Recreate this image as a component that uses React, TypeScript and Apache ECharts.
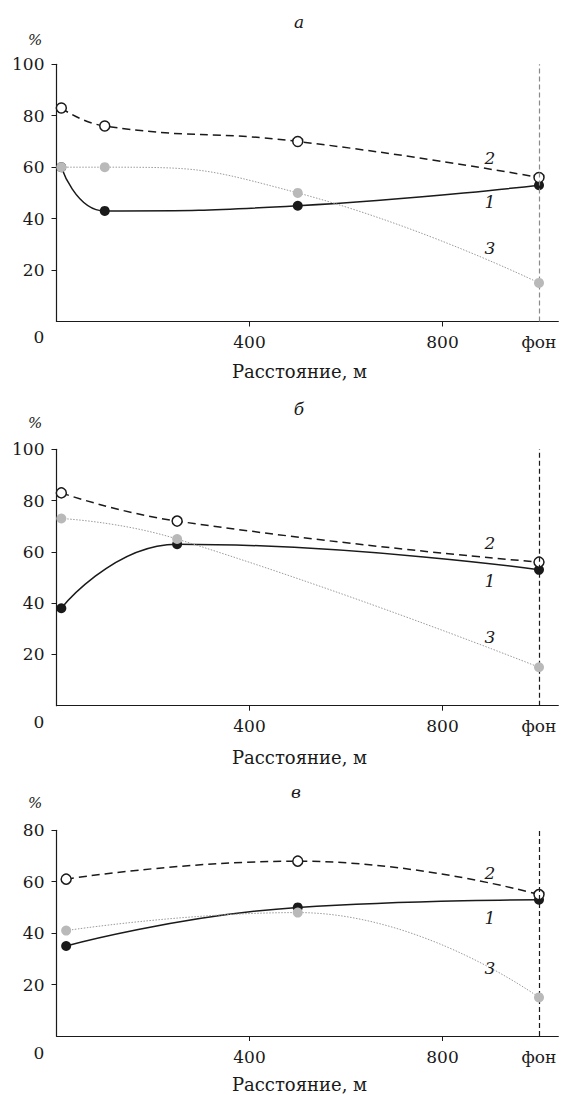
import React, { useEffect, useRef } from "react";
import * as echarts from "echarts";

// Panel а
const xA = [10, 100, 500, 1000];
const s1A = [60, 43, 45, 53];
const s2A = [83, 76, 70, 56];
const s3A = [60, 60, 50, 15];
// Panel б
const xB = [10, 250, 1000];
const s1B = [38, 63, 53];
const s2B = [83, 72, 56];
const s3B = [73, 65, 15];
// Panel в
const xC = [20, 500, 1000];
const s1C = [35, 50, 53];
const s2C = [61, 68, 55];
const s3C = [41, 48, 15];

const xTickValues = [400, 800];
const xLabelValues = [400, 800, 1000];
const BG_VALUE = 1000;
const BG_LABEL = "фон";
const X_MAX = 1040;
const yTicksAB = [20, 40, 60, 80, 100];
const yTicksC = [20, 40, 60, 80];
const panelTitles = ["а", "б", "в"];
const xAxisName = "Расстояние, м";
const yUnit = "%";
const seriesNames = ["1", "2", "3"];

const FONT = "DejaVu Serif";
const INK = "#1a1a1a";

export default function App() {
  const ref = useRef<HTMLDivElement>(null);
  useEffect(() => {
    if (!ref.current) return;
    const chart = echarts.init(ref.current, null, { renderer: "svg" });

    const grids = [
      { left: 56.5, top: 64.3, width: 501.8, height: 257.2 },
      { left: 56.5, top: 449.3, width: 501.8, height: 256.4 },
      { left: 56.5, top: 830.3, width: 501.8, height: 205.7 },
    ];
    const yMax = [100, 100, 80];
    const yTicks = [yTicksAB, yTicksAB, yTicksC];
    const vlineColor = ["#8a8a8a", INK, INK];
    const xs = [xA, xB, xC];
    const s1 = [s1A, s1B, s1C];
    const s2 = [s2A, s2B, s2C];
    const s3 = [s3A, s3B, s3C];

    const xAxes = grids.map((_, i) => ({
      type: "value",
      gridIndex: i,
      min: 0,
      max: X_MAX,
      axisLine: { show: true, onZero: false, lineStyle: { color: INK, width: 1.2 } },
      axisTick: { show: true, customValues: xTickValues, inside: false, length: 5, lineStyle: { color: INK, width: 1 } },
      axisLabel: {
        customValues: xLabelValues,
        formatter: (v: number) => (v === BG_VALUE ? BG_LABEL : String(v)),
        color: INK,
        fontFamily: FONT,
        fontSize: 17,
        margin: 12,
      },
      splitLine: { show: false },
    }));
    const yAxes = grids.map((_, i) => ({
      type: "value",
      gridIndex: i,
      min: 0,
      max: yMax[i],
      interval: 20,
      axisLine: { show: true, onZero: false, lineStyle: { color: INK, width: 1.2 } },
      axisTick: { show: true, customValues: yTicks[i], length: 5, lineStyle: { color: INK, width: 1 } },
      axisLabel: {
        customValues: yTicks[i],
        color: INK,
        fontFamily: FONT,
        fontSize: 17,
        margin: 12,
      },
      splitLine: { show: false },
    }));

    const series: any[] = [];
    for (let i = 0; i < 3; i++) {
      series.push({
        type: "line",
        xAxisIndex: i,
        yAxisIndex: i,
        smooth: true,
        data: xs[i].map((x, k) => [x, s1[i][k]]),
        symbol: "circle",
        symbolSize: 10,
        itemStyle: { color: INK, borderWidth: 0 },
        lineStyle: { color: INK, width: 1.5 },
        z: 3,
        markLine: {
          silent: true,
          symbol: "none",
          label: { show: false },
          lineStyle: { color: vlineColor[i], type: [5, 3], width: 1.2 },
          data: [{ xAxis: BG_VALUE }],
        },
      });
      series.push({
        type: "line",
        xAxisIndex: i,
        yAxisIndex: i,
        smooth: true,
        data: xs[i].map((x, k) => [x, s2[i][k]]),
        symbol: "circle",
        symbolSize: 10,
        itemStyle: { color: "#ffffff", borderColor: INK, borderWidth: 1.5 },
        lineStyle: { color: INK, width: 1.5, type: [8, 5] },
        z: 4,
      });
      series.push({
        type: "line",
        xAxisIndex: i,
        yAxisIndex: i,
        smooth: true,
        data: xs[i].map((x, k) => [x, s3[i][k]]),
        symbol: "circle",
        symbolSize: 10,
        itemStyle: { color: "#b9b9b9", borderWidth: 0 },
        lineStyle: { color: "#9a9a9a", width: 1, type: [1.5, 1.5] },
        z: 5,
      });
    }

    const txt = (text: string, x: number, y: number, opts: any = {}) => ({
      type: "text",
      x,
      y,
      z: 10,
      style: {
        text,
        fill: INK,
        fontFamily: FONT,
        fontSize: 17,
        align: "center",
        verticalAlign: "middle",
        ...opts,
      },
    });

    const titleY = [22, 409.3, 791.7];
    const titleX = [299, 299, 296];
    const pctY = [40, 423, 803];
    const zeroY = [337, 721.7, 1053];
    const nameY = [371.5, 757, 1084.5];
    const numY = [
      [201.7, 157.5, 248],
      [580.7, 543.3, 636.7],
      [918.3, 873.3, 968.3],
    ];

    const graphic: any[] = [];
    for (let i = 0; i < 3; i++) {
      graphic.push(txt(panelTitles[i], titleX[i], titleY[i], { fontStyle: "italic" }));
      graphic.push(txt(yUnit, 35, pctY[i], { fontStyle: "italic", fontSize: 15 }));
      graphic.push(txt("0", 39, zeroY[i]));
      graphic.push(txt(xAxisName, 299.5, nameY[i], { fontSize: 18 }));
      for (let k = 0; k < 3; k++) {
        graphic.push(txt(seriesNames[k], 490, numY[i][k], { fontStyle: "italic" }));
      }
    }

    chart.setOption({
      animation: false,
      backgroundColor: "#ffffff",
      grid: grids,
      xAxis: xAxes,
      yAxis: yAxes,
      series,
      graphic,
    });
    return () => chart.dispose();
  }, []);

  return (
    <div
      ref={ref}
      style={{ position: "absolute", left: 0, top: 0, width: 561, height: 1095 }}
    />
  );
}
